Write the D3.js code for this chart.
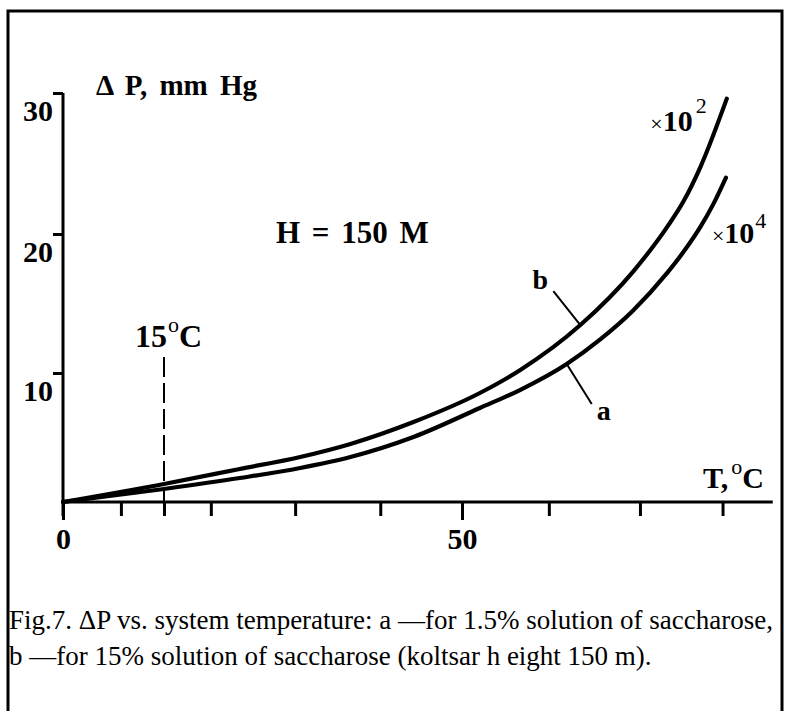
<!DOCTYPE html>
<html>
<head>
<meta charset="utf-8">
<script src="https://cdn.jsdelivr.net/npm/d3@7"></script>
<style>
  body { margin: 0; background: #fff; }
  svg text { font-family: "Liberation Serif", "Times New Roman", Times, serif; fill: #000; }
</style>
</head>
<body>
<svg id="chart" width="789" height="711"></svg>
<script>
// curve b: 15% saccharose (x10^2), curve a: 1.5% saccharose (x10^4)
const tempB = [0, 15, 23.9, 31.0, 36.9, 44.3, 52.1, 56.8, 63.9, 70.1, 74.1, 76.0, 78.0, 81.1];
const dpB   = [0, 1.40, 2.56, 3.49, 4.50, 6.20, 8.45, 10.2, 13.45, 17.3, 20.5, 22.3, 24.75, 29.6];
const tempA = [0, 15, 23.9, 31.0, 36.9, 44.3, 52.1, 56.8, 62.3, 66.2, 70.1, 74.1, 76.0, 78.0, 79.5, 81.0];
const dpA   = [0, 1.01, 1.86, 2.64, 3.49, 5.04, 7.29, 8.68, 10.65, 12.4, 14.5, 17.2, 18.7, 20.5, 22.1, 24.0];

const xTicks = [0, 8.6, 15, 20.5, 30.4, 40.4, 50, 60.2, 70.9, 80.6];
const xLabels = [0, 50];
const xMax = 86.5;
const yTicks = [10, 20, 30];
const markTemp = 15;

const svg = d3.select("#chart");

// hand drawn axes are not quite even, so the scales have a few knots
const x = d3.scaleLinear().domain([0, 15, 50]).range([63, 164, 462]);
const y = d3.scaleLinear().domain([0, 10, 20, 30]).range([502, 373, 234, 93]);

// frame
svg.append("path")
   .attr("d", "M8,711 V11 H782 V711")
   .attr("fill", "none").attr("stroke", "#000").attr("stroke-width", 3);

// x axis
const xAxis = d3.axisBottom(x).tickValues(xTicks).tickSize(14).tickSizeOuter(0)
                .tickFormat(d => xLabels.includes(d) ? d : "");
const xg = svg.append("g").attr("transform", `translate(0,${y(0)})`).call(xAxis);
xg.select(".domain").remove();
xg.selectAll(".tick line").attr("stroke-width", 3)
  .attr("y2", d => xLabels.includes(d) ? 18 : 14);
xg.selectAll(".tick text").attr("y", 47).attr("dy", null)
  .style("font-size", "30px").style("font-weight", "bold");
xg.append("line").attr("x1", x(0)).attr("x2", x(xMax))
  .attr("stroke", "#000").attr("stroke-width", 3);

// y axis
const yAxis = d3.axisLeft(y).tickValues(yTicks).tickSize(10).tickSizeOuter(0);
const yg = svg.append("g").attr("transform", `translate(${x(0)},0)`).call(yAxis);
yg.select(".domain").remove();
yg.selectAll(".tick line").attr("stroke-width", 3);
yg.selectAll(".tick text").attr("x", -10).attr("y", 27).attr("dy", null)
  .style("font-size", "30px").style("font-weight", "bold");
yg.append("line").attr("y1", y(30)).attr("y2", y(0) + 14)
  .attr("stroke", "#000").attr("stroke-width", 3);

// 15 C reference line
svg.append("line")
   .attr("x1", x(markTemp)).attr("x2", x(markTemp))
   .attr("y1", 357).attr("y2", y(0) + 14)
   .attr("stroke", "#000").attr("stroke-width", 2)
   .attr("stroke-dasharray", "20,6");

// curves
const ptsB = tempB.map((t, i) => ({t: t, p: dpB[i]}));
const ptsA = tempA.map((t, i) => ({t: t, p: dpA[i]}));
const line = d3.line().x(d => x(d.t)).y(d => y(d.p)).curve(d3.curveMonotoneX);
[ptsB, ptsA].forEach(pts => {
  svg.append("path").datum(pts).attr("d", line)
     .attr("fill", "none").attr("stroke", "#000").attr("stroke-width", 4.2)
     .attr("stroke-linecap", "round");
});

function addText(px, py, anchor, size, weight) {
  return svg.append("text")
    .attr("x", px).attr("y", py)
    .attr("text-anchor", anchor)
    .style("font-size", size + "px")
    .style("font-weight", weight);
}

// leader lines to the curve labels
const bPt = ptsB[8], aPt = ptsA[8];
svg.append("line").attr("x1", x(bPt.t) - 27).attr("y1", y(bPt.p) - 34)
   .attr("x2", x(bPt.t)).attr("y2", y(bPt.p))
   .attr("stroke", "#000").attr("stroke-width", 2);
svg.append("line").attr("x1", x(aPt.t)).attr("y1", y(aPt.p))
   .attr("x2", x(aPt.t) + 25).attr("y2", y(aPt.p) + 40)
   .attr("stroke", "#000").attr("stroke-width", 2);
addText(x(bPt.t) - 40, y(bPt.p) - 36, "middle", 28, "bold").text("b");
addText(x(aPt.t) + 37, y(aPt.p) + 56, "middle", 28, "bold").text("a");

// scale factors at curve ends
const bEnd = ptsB[ptsB.length - 1], aEnd = ptsA[ptsA.length - 1];
const tb = addText(x(bEnd.t) - 20, y(bEnd.p) + 32, "end", 30, "bold");
tb.append("tspan").style("font-weight", "normal").style("font-size", "22px").text("\u00d7");
tb.append("tspan").text("10");
tb.append("tspan").attr("dx", 3).attr("dy", -18).style("font-weight", "normal").style("font-size", "22px").text("2");
const ta = addText(x(aEnd.t) - 14, y(aEnd.p) + 65, "start", 30, "bold");
ta.append("tspan").style("font-weight", "normal").style("font-size", "22px").text("\u00d7");
ta.append("tspan").text("10");
ta.append("tspan").attr("dx", 1).attr("dy", -15).style("font-weight", "normal").style("font-size", "22px").text("4");

// titles and notes
addText(96, 95, "start", 29, "bold").style("word-spacing", "5px").text("\u0394 P, mm Hg");
addText(276, 243, "start", 31, "bold").style("word-spacing", "4px").text("H = 150 M");

const t15 = addText(135, 347, "start", 32, "bold");
t15.append("tspan").text("15");
t15.append("tspan").attr("dx", 1).attr("dy", -15).style("font-size", "22px").style("font-weight", "normal").text("o");
t15.append("tspan").attr("dy", 15).text("C");

const tT = addText(703, 488, "start", 30, "bold");
tT.append("tspan").text("T,");
tT.append("tspan").attr("dx", 3).attr("dy", -14).style("font-size", "22px").style("font-weight", "normal").text("o");
tT.append("tspan").attr("dy", 14).text("C");

// caption
addText(9, 629, "start", 27, "normal")
  .text("Fig.7. \u0394P vs. system temperature: a \u2014for 1.5% solution of saccharose,");
addText(9, 665, "start", 27, "normal")
  .text("b \u2014for 15% solution of saccharose (koltsar h eight 150 m).");
</script>
</body>
</html>
